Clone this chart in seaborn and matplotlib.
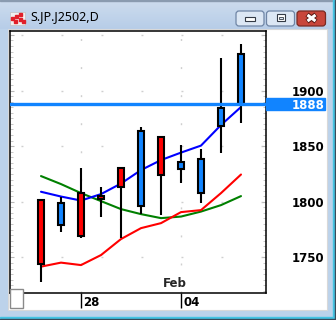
import numpy as np
import pandas as pd
import matplotlib
matplotlib.use("Agg")
import matplotlib.pyplot as plt
import seaborn as sns
from matplotlib.patches import Rectangle, FancyBboxPatch, Polygon
from matplotlib.transforms import ScaledTranslation, blended_transform_factory
from matplotlib.ticker import MultipleLocator

# ---------------- data ----------------
dates = ["01-24", "01-27", "01-28", "01-29", "01-30", "01-31",
         "02-03", "02-04", "02-05", "02-06", "02-07"]
open_ = [1744.0, 1798.6, 1768.9, 1802.5, 1812.9, 1864.0, 1824.3, 1835.4, 1838.1, 1884.5, 1932.6]
high = [1801.5, 1804.0, 1830.6, 1812.9, 1830.6, 1867.2, 1858.6, 1851.0, 1847.4, 1929.0, 1941.8]
low = [1728.1, 1773.0, 1767.1, 1786.0, 1767.6, 1789.0, 1788.0, 1816.5, 1799.1, 1844.1, 1871.0]
close = [1801.5, 1779.0, 1807.6, 1805.0, 1830.6, 1795.9, 1858.6, 1829.4, 1807.6, 1868.3, 1888.0]
ma_blue = [1809.0, 1804.7, 1801.1, 1806.9, 1816.4, 1828.5, 1837.5, 1844.2, 1850.5, 1869.0, 1885.2]
ma_green = [1823.1, 1815.9, 1807.8, 1800.6, 1793.4, 1788.9, 1785.3, 1786.7, 1791.2, 1797.0, 1805.1]
ma_red = [1741.7, 1745.3, 1743.1, 1752.1, 1766.5, 1776.3, 1780.8, 1790.7, 1792.5, 1807.8, 1824.5]
last_price = 1888
price_ticks = [1750, 1800, 1850, 1900]
price_labels = ["1750", "1800", "1850", "1900"]
day_tick_idx = [2, 7]
day_tick_labels = ["28", "04"]
month_idx = [6]
month_labels = ["Feb"]
title = "S.JP.J2502,D"

# ---------------- style ----------------
sns.set_style("white")
plt.rcParams["font.family"] = ["DejaVu Sans"]
plt.rcParams["lines.scale_dashes"] = False

W, H = 336, 320
fig = plt.figure(figsize=(W / 100, H / 100), dpi=100)

FRAME = "#bcd2ea"
UP = "#ff0000"
DOWN = "#1184ff"

# background / window chrome axes in pixel coordinates
bg = fig.add_axes([0, 0, 1, 1], zorder=0)
bg.set_xlim(0, W)
bg.set_ylim(H, 0)
bg.axis("off")
bg.add_patch(Rectangle((0, 0), W, H, color=FRAME, zorder=0))
# title bar gradient
grad = np.linspace(0, 1, 30)[:, None]
top_c = np.array(matplotlib.colors.to_rgb("#cddcee"))
bot_c = np.array(matplotlib.colors.to_rgb("#b7cde8"))
img = top_c[None, None, :] * (1 - grad[:, :, None]) + bot_c[None, None, :] * grad[:, :, None]
img = np.repeat(img, 2, axis=1)
bg.imshow(img, extent=(0, W, 29, 0), aspect="auto", zorder=0.5)
# outer edges
bg.add_patch(Rectangle((0, 0), W, 1, color="#8a9bb0", zorder=1))
bg.add_patch(Rectangle((0, H - 3), W, 2, color="#44c3e3", zorder=1))
bg.add_patch(Rectangle((W - 3, 0), 2, H, color="#44c3e3", zorder=1))
bg.add_patch(Rectangle((0, H - 1), W, 1, color="#3a4a5a", zorder=1))
bg.add_patch(Rectangle((W - 1, 0), 1, H, color="#3a4a5a", zorder=1))
# client area
bg.add_patch(Rectangle((8, 29), 319, 281, facecolor="white", edgecolor="#d8d8d8", lw=0.8, zorder=1))
# icon
bg.add_patch(Rectangle((10, 12), 15, 13, facecolor="#f0f0f0", edgecolor="#c0c0c0", lw=0.5, zorder=2))
for (ix, iy) in [(11, 17), (15, 15), (19, 13), (19, 18), (14, 20), (22, 20)]:
    bg.add_patch(Rectangle((ix, iy), 3, 3, color="#e0202a", zorder=3))
bg.text(30, 17, title, fontsize=9, family="Noto Sans", va="center", ha="left", color="black", zorder=3)
# buttons
for (bx, fc, ec) in [(236, "#dce7f4", "#6f85a5"), (266.5, "#dce7f4", "#6f85a5"), (297, "#c8463b", "#7a2a22")]:
    bg.add_patch(FancyBboxPatch((bx, 11), 28 if bx < 290 else 28.5, 15,
                                boxstyle="round,pad=0,rounding_size=3",
                                facecolor=fc, edgecolor=ec, lw=0.9, zorder=2))
bg.add_patch(Rectangle((245, 17), 10, 3.5, facecolor="white", edgecolor="#333a45", lw=0.8, zorder=3))
bg.add_patch(Rectangle((276.5, 13.5), 8.5, 7.5, facecolor="white", edgecolor="#333a45", lw=0.8, zorder=3))
bg.add_patch(Rectangle((279, 16.5), 3.5, 2, facecolor="#dce7f4", edgecolor="#333a45", lw=0.6, zorder=4))
bg.plot([307, 316], [14.5, 21.5], color="#5a1a14", lw=3.6, solid_capstyle="butt", zorder=3)
bg.plot([307, 316], [21.5, 14.5], color="#5a1a14", lw=3.6, solid_capstyle="butt", zorder=3)
bg.plot([307.5, 315.5], [15, 21], color="white", lw=2.2, solid_capstyle="butt", zorder=4)
bg.plot([307.5, 315.5], [21, 15], color="white", lw=2.2, solid_capstyle="butt", zorder=4)

# ---------------- main chart axes ----------------
L, T, R, B = 10, 31, 266, 293
ax = fig.add_axes([L / W, (H - B) / H, (R - L) / W, (B - T) / H], zorder=1)
ax.set_facecolor("white")

x = np.arange(len(dates))
df = pd.DataFrame({"x": x, "open": open_, "high": high, "low": low, "close": close,
                   "ma_blue": ma_blue, "ma_green": ma_green, "ma_red": ma_red})

sns.lineplot(data=df, x="x", y="ma_green", ax=ax, color="#008000", lw=1.5, zorder=2)
sns.lineplot(data=df, x="x", y="ma_red", ax=ax, color="#ff0000", lw=1.5, zorder=2)
sns.lineplot(data=df, x="x", y="ma_blue", ax=ax, color="#0000ff", lw=1.5, zorder=2)

ax.vlines(df["x"], df["low"], df["high"], color="black", lw=1.5, zorder=3)
up = df["close"] >= df["open"]
body_bottom = np.minimum(df["open"], df["close"])
body_h = np.abs(df["close"] - df["open"])
ax.bar(df["x"], body_h, bottom=body_bottom, width=0.33,
       color=np.where(up, UP, DOWN), edgecolor="black", lw=1.5, zorder=4)

ax.axhline(last_price, color=DOWN, lw=2.4, zorder=5)

ax.set_xlim(-1.55, 11.25)
ax.set_ylim(1718, 1953.5)

ax.set_xlabel("")
ax.set_ylabel("")

# grid
ax.set_yticks(price_ticks + [1950])
ax.set_yticklabels(price_labels + [""])
ax.yaxis.set_minor_locator(MultipleLocator(5))
ax.grid(axis="y", which="major", color="#cfcfcf", lw=1.0, linestyle=(20.9, (1.4, 27.4)))
ax.set_xticks(day_tick_idx)
ax.set_xticklabels(day_tick_labels)
ax.grid(axis="x", which="major", color="#cfcfcf", lw=1.0, linestyle=(0, (1.4, 18.8)))

ax.yaxis.tick_right()
ax.tick_params(axis="y", which="major", direction="in", length=3, width=0.8, color="#b8b8b8",
               left=True, right=True, labelleft=False, labelright=True, pad=42,
               labelsize=8.5, labelcolor="black")
ax.tick_params(axis="y", which="minor", direction="in", length=2, width=0.7, color="#c8c8c8",
               left=True, right=True)
for t in ax.get_yticklabels():
    t.set_horizontalalignment("right")
    t.set_fontweight("bold")

ax.tick_params(axis="x", which="major", direction="out", length=10.8, width=1.0, color="black",
               bottom=True, top=False, pad=-8.6, labelsize=8.5, labelcolor="black")
for t in ax.get_xticklabels():
    t.set_horizontalalignment("left")
    t.set_fontweight("bold")
    t.set_transform(t.get_transform() + ScaledTranslation(2 / 100, 0, fig.dpi_scale_trans))

for sp in ax.spines.values():
    sp.set_color("black")
    sp.set_linewidth(1.1)

# month label inside plot
for mi, ml in zip(month_idx, month_labels):
    ax.text(mi, 1718, ml, fontsize=8.5, fontweight="bold", ha="left", va="bottom", zorder=6,
            transform=ax.transData + ScaledTranslation(2 / 100, 3 / 100, fig.dpi_scale_trans))

# last price label box on the price scale
btr = blended_transform_factory(ax.transAxes, ax.transData)
ax.add_patch(Rectangle((1.0, last_price - 5.4), (325 - L) / (R - L) - 1.0, 10.8,
                       transform=btr, color=DOWN, clip_on=False, zorder=6))
ax.text((324.3 - L) / (R - L), last_price, str(last_price), transform=btr, ha="right",
        va="center_baseline", color="white", fontsize=8.5, fontweight="bold", zorder=7, clip_on=False)

# small corner box at bottom-left
ax.add_patch(Rectangle((10, 289), 13, 19, transform=bg.transData, facecolor="white",
                       edgecolor="#8a8a8a", lw=1.0, clip_on=False, zorder=8))

fig.savefig("out.png", dpi=100)
